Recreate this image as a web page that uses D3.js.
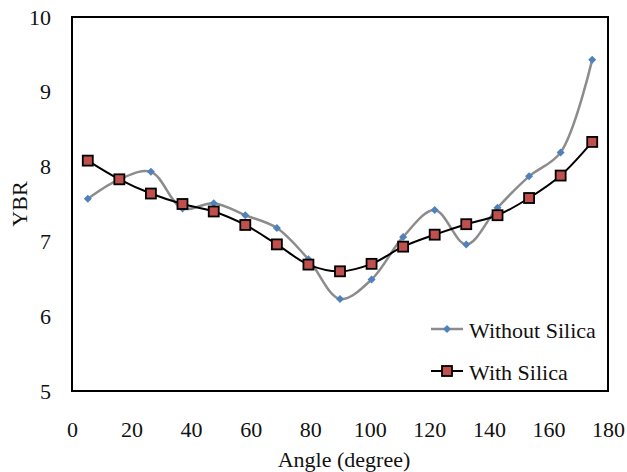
<!DOCTYPE html>
<html>
<head>
  <meta charset="utf-8">
  <title>YBR vs Angle</title>
  <script src="https://d3js.org/d3.v7.min.js"></script>
  <style>
    body { margin: 0; background: #fff; }
    text { font-family: "Liberation Serif", "Times New Roman", serif; fill: #111; }
  </style>
</head>
<body>
<script>
  // data
  var angles = [5.3, 15.9, 26.5, 37.1, 47.6, 58.2, 68.8, 79.4, 90.0, 100.6, 111.2, 121.8, 132.4, 142.9, 153.5, 164.1, 174.7];
  var withoutSilica = [7.57, 7.83, 7.93, 7.44, 7.51, 7.35, 7.18, 6.76, 6.23, 6.49, 7.06, 7.42, 6.96, 7.45, 7.87, 8.19, 9.43];
  var withSilica = [8.08, 7.83, 7.64, 7.50, 7.40, 7.22, 6.96, 6.69, 6.60, 6.70, 6.93, 7.09, 7.23, 7.35, 7.58, 7.88, 8.33];
  var xTicks = [0, 20, 40, 60, 80, 100, 120, 140, 160, 180];
  var yTicks = [5, 6, 7, 8, 9, 10];

  var width = 627, height = 472;
  var margin = { top: 17, right: 19, bottom: 81, left: 72 };

  var svg = d3.select("body").append("svg").attr("width", width).attr("height", height);

  var x = d3.scaleLinear().domain([0, 180]).range([margin.left, width - margin.right]);
  var y = d3.scaleLinear().domain([5, 10]).range([height - margin.bottom, margin.top]);

  // frame
  svg.append("rect")
    .attr("x", x(0)).attr("y", y(10))
    .attr("width", x(180) - x(0)).attr("height", y(5) - y(10))
    .attr("fill", "none").attr("stroke", "#000").attr("stroke-width", 2);

  // axes (labels only, no tick marks)
  var xAxis = d3.axisBottom(x).tickValues(xTicks).tickFormat(d3.format("d")).tickSize(0).tickPadding(30);
  var yAxis = d3.axisLeft(y).tickValues(yTicks).tickFormat(d3.format("d")).tickSize(0).tickPadding(21);

  var gx = svg.append("g").attr("transform", "translate(0," + y(5) + ")").call(xAxis);
  var gy = svg.append("g").attr("transform", "translate(" + x(0) + ",0)").call(yAxis);
  [gx, gy].forEach(function(g) {
    g.select(".domain").remove();
    g.selectAll("text").attr("font-size", "22px");
  });

  svg.append("text")
    .attr("x", (x(0) + x(180)) / 2 + 4).attr("y", 467)
    .attr("text-anchor", "middle").attr("font-size", "22px")
    .text("Angle (degree)");

  svg.append("text")
    .attr("transform", "translate(27," + ((y(5) + y(10)) / 2) + ") rotate(-90)")
    .attr("text-anchor", "middle").attr("font-size", "22px")
    .text("YBR");

  var line = function(vals) {
    return d3.line()
      .x(function(d, i) { return x(angles[i]); })
      .y(function(d) { return y(d); })
      .curve(d3.curveCatmullRom.alpha(0.5))(vals);
  };

  // without silica
  svg.append("path").attr("d", line(withoutSilica))
    .attr("fill", "none").attr("stroke", "#8c8c8c").attr("stroke-width", 2.5);
  var diamond = d3.symbol().type(d3.symbolSquare).size(32);
  svg.selectAll(".dia").data(withoutSilica).enter().append("path")
    .attr("d", diamond)
    .attr("transform", function(d, i) { return "translate(" + x(angles[i]) + "," + y(d) + ") rotate(45)"; })
    .attr("fill", "#4f81bd");

  // with silica
  svg.append("path").attr("d", line(withSilica))
    .attr("fill", "none").attr("stroke", "#000").attr("stroke-width", 2);
  svg.selectAll(".sq").data(withSilica).enter().append("rect")
    .attr("x", function(d, i) { return x(angles[i]) - 5; })
    .attr("y", function(d) { return y(d) - 5; })
    .attr("width", 10).attr("height", 10)
    .attr("fill", "#c0504d").attr("stroke", "#000").attr("stroke-width", 1.8);

  // legend
  var lg = svg.append("g");
  lg.append("line").attr("x1", 431).attr("x2", 463).attr("y1", 329).attr("y2", 329)
    .attr("stroke", "#8c8c8c").attr("stroke-width", 2.5);
  lg.append("path").attr("d", diamond).attr("transform", "translate(447,329) rotate(45)").attr("fill", "#4f81bd");
  lg.append("text").attr("x", 469).attr("y", 338).attr("font-size", "22px").text("Without Silica");

  lg.append("line").attr("x1", 431).attr("x2", 463).attr("y1", 371).attr("y2", 371)
    .attr("stroke", "#000").attr("stroke-width", 2);
  lg.append("rect").attr("x", 442).attr("y", 366).attr("width", 10).attr("height", 10)
    .attr("fill", "#c0504d").attr("stroke", "#000").attr("stroke-width", 1.8);
  lg.append("text").attr("x", 469).attr("y", 380).attr("font-size", "22px").text("With Silica");
</script>
</body>
</html>
